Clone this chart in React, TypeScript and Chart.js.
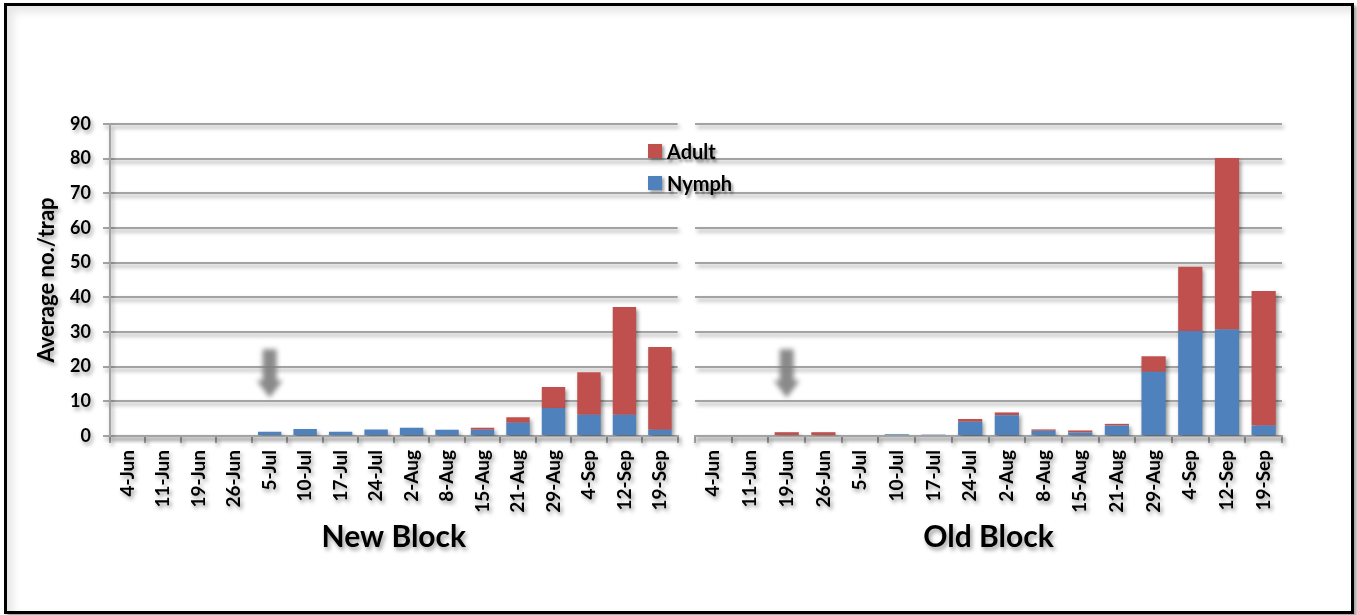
import React, { useEffect, useRef } from 'react';
import { Chart, registerables } from 'chart.js';

Chart.register(...registerables);

// ---- data ----
const categories = ['4-Jun', '11-Jun', '19-Jun', '26-Jun', '5-Jul', '10-Jul', '17-Jul', '24-Jul', '2-Aug', '8-Aug', '15-Aug', '21-Aug', '29-Aug', '4-Sep', '12-Sep', '19-Sep'];
const newNymph = [0, 0, 0, 0, 1.2, 2.0, 1.2, 1.9, 2.4, 1.8, 1.8, 3.8, 8.1, 6.1, 6.1, 1.8];
const newAdult = [0, 0, 0, 0, 0, 0, 0, 0, 0, 0, 0.6, 1.6, 6.0, 12.3, 31.1, 23.9];
const oldNymph = [0, 0, 0, 0, 0, 0.5, 0.4, 4.1, 6.0, 1.5, 1.0, 3.0, 18.5, 30.3, 30.7, 3.0];
const oldAdult = [0, 0, 1.1, 1.1, 0, 0, 0, 0.8, 0.8, 0.4, 0.6, 0.5, 4.5, 18.5, 49.5, 38.8];
const yMin = 0;
const yMax = 90;
const yStep = 10;
const seriesNames = ['Nymph', 'Adult'];
const yTitle = 'Average no./trap';
const blockTitles = ['New Block', 'Old Block'];
// arrow annotations: category index, value from top of shaft to neck to tip
const newArrow = { index: 4, from: 25, neck: 16, to: 11 };
const oldArrow = { index: 2, from: 25, neck: 16, to: 11 };

const RED = '#C0504D';
const BLUE = '#4F81BD';
const GRID = '#a3a3a3';
const FONT = 'Lato';

const shadowPlugin = {
  id: 'xlShadow',
  beforeDraw(chart: any) {
    const c = chart.ctx;
    c.save();
    c.shadowColor = 'rgba(0,0,0,0.4)';
    c.shadowBlur = 4;
    c.shadowOffsetX = 2;
    c.shadowOffsetY = 3;
  },
  afterDraw(chart: any) {
    chart.ctx.restore();
  },
};

const arrowPlugin = {
  id: 'downArrow',
  afterDatasetsDraw(chart: any, _args: any, opts: any) {
    if (!opts || opts.index == null) return;
    const x = chart.scales.x.getPixelForValue(opts.index);
    const yTop = chart.scales.y.getPixelForValue(opts.from);
    const yNeck = chart.scales.y.getPixelForValue(opts.neck);
    const yTip = chart.scales.y.getPixelForValue(opts.to);
    const ctx = chart.ctx;
    ctx.save();
    ctx.shadowColor = 'transparent';
    ctx.filter = 'blur(2.5px)';
    ctx.fillStyle = 'rgba(125,125,125,0.9)';
    const sw = 7;
    const hw = 13;
    ctx.beginPath();
    ctx.moveTo(x - sw, yTop);
    ctx.lineTo(x + sw, yTop);
    ctx.lineTo(x + sw, yNeck);
    ctx.lineTo(x + hw, yNeck);
    ctx.lineTo(x, yTip);
    ctx.lineTo(x - hw, yNeck);
    ctx.lineTo(x - sw, yNeck);
    ctx.closePath();
    ctx.fill();
    ctx.restore();
  },
};

function makeConfig(nymph: number[], adult: number[], title: string, showY: boolean, arrow: any, pad: any): any {
  return {
    type: 'bar',
    data: {
      labels: categories,
      datasets: [
        { label: seriesNames[0], data: nymph, backgroundColor: BLUE, barPercentage: 0.66, categoryPercentage: 1, borderWidth: 0 },
        { label: seriesNames[1], data: adult, backgroundColor: RED, barPercentage: 0.66, categoryPercentage: 1, borderWidth: 0 },
      ],
    },
    plugins: [shadowPlugin, arrowPlugin],
    options: {
      responsive: false,
      animation: false,
      layout: { padding: pad },
      plugins: {
        legend: { display: false },
        tooltip: { enabled: false },
        downArrow: arrow,
      },
      scales: {
        x: {
          stacked: true,
          offset: true,
          grid: { display: true, drawOnChartArea: false, offset: true, tickLength: 7, color: GRID, lineWidth: 2 },
          border: { display: true, color: GRID, width: 2 },
          ticks: {
            autoSkip: false,
            minRotation: 90,
            maxRotation: 90,
            padding: 7,
            color: '#000',
            font: { family: FONT, size: 19, weight: 'bold' },
          },
          title: {
            display: true,
            text: title,
            color: '#000',
            font: { family: FONT, size: 30, weight: 'bold' },
            padding: { top: 0, bottom: 10 },
          },
          afterFit: (s: any) => { s.height = 129; },
        },
        y: {
          stacked: true,
          min: yMin,
          max: yMax,
          display: true,
          grid: { color: GRID, lineWidth: 2, drawTicks: showY, tickLength: 7 },
          border: { display: showY, color: GRID, width: 2 },
          ticks: {
            display: showY,
            stepSize: yStep,
            padding: 12,
            color: '#000',
            font: { family: FONT, size: 18, weight: 'bold' },
          },
          title: {
            display: showY,
            text: yTitle,
            color: '#000',
            font: { family: FONT, size: 22, weight: 'bold' },
            padding: { top: 0, bottom: 0 },
          },
          afterFit: (s: any) => { s.width = showY ? 76 : 0; },
        },
      },
    },
  };
}

function BlockChart(props: { nymph: number[]; adult: number[]; title: string; showY: boolean; arrow: any; pad: any; left: number; width: number }) {
  const ref = useRef<HTMLCanvasElement | null>(null);
  useEffect(() => {
    if (!ref.current) return;
    const chart = new Chart(ref.current, makeConfig(props.nymph, props.adult, props.title, props.showY, props.arrow, props.pad));
    return () => chart.destroy();
  }, []);
  return (
    <canvas
      ref={ref}
      width={props.width}
      height={615}
      style={{ position: 'absolute', left: props.left, top: 0, width: props.width, height: 615 }}
    />
  );
}

const legendText: React.CSSProperties = {
  position: 'absolute',
  fontFamily: FONT,
  fontWeight: 'bold',
  fontSize: 20,
  lineHeight: '20px',
  color: '#000',
  textShadow: '2px 3px 3px rgba(0,0,0,0.45)',
};

export default function App() {
  return (
    <div style={{ position: 'absolute', left: 0, top: 0, width: 1357, height: 615, background: '#fff', overflow: 'hidden' }}>
      <div
        style={{
          position: 'absolute',
          left: 4,
          top: 3,
          width: 1350,
          height: 611,
          boxSizing: 'border-box',
          border: '3px solid #000',
          boxShadow: '3px 3px 3px rgba(0,0,0,0.35), inset 6px 6px 8px rgba(0,0,0,0.10)',
        }}
      />
      <BlockChart nymph={newNymph} adult={newAdult} title={blockTitles[0]} showY={true} arrow={newArrow}
        pad={{ left: 34, right: 9, top: 124, bottom: 50 }} left={0} width={690} />
      <BlockChart nymph={oldNymph} adult={oldAdult} title={blockTitles[1]} showY={false} arrow={oldArrow}
        pad={{ left: 15, right: 75, top: 124, bottom: 50 }} left={680} width={677} />
      <div style={{ position: 'absolute', left: 648, top: 144, width: 14, height: 14, background: RED, boxShadow: '2px 2px 3px rgba(0,0,0,0.4)' }} />
      <div style={{ ...legendText, left: 667, top: 141 }}>{seriesNames[1]}</div>
      <div style={{ position: 'absolute', left: 648, top: 176, width: 14, height: 14, background: BLUE, boxShadow: '2px 2px 3px rgba(0,0,0,0.4)' }} />
      <div style={{ ...legendText, left: 667, top: 173 }}>{seriesNames[0]}</div>
    </div>
  );
}
